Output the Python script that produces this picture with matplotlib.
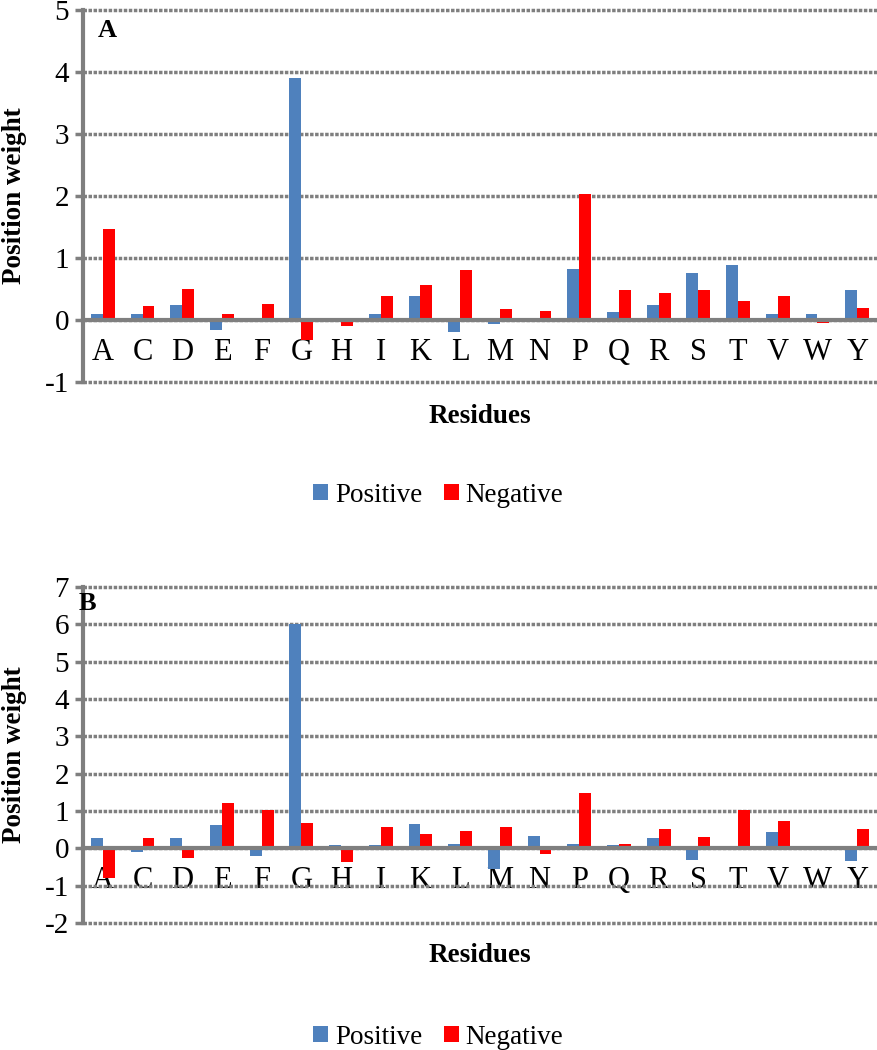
import matplotlib
matplotlib.use("Agg")
import matplotlib.pyplot as plt
import numpy as np

plt.rcParams['font.family'] = ['Liberation Serif', 'DejaVu Serif']
plt.rcParams['axes.unicode_minus'] = False

residues = ['A', 'C', 'D', 'E', 'F', 'G', 'H', 'I', 'K', 'L',
            'M', 'N', 'P', 'Q', 'R', 'S', 'T', 'V', 'W', 'Y']

# panel A
pos_a = [0.10, 0.10, 0.24, -0.16, 0.01, 3.91, 0.0, 0.09, 0.39, -0.19,
         -0.06, 0.0, 0.82, 0.13, 0.25, 0.76, 0.89, 0.10, 0.10, 0.48]
neg_a = [1.47, 0.23, 0.50, 0.10, 0.26, -0.32, -0.10, 0.39, 0.57, 0.80,
         0.17, 0.14, 2.03, 0.48, 0.43, 0.48, 0.30, 0.39, -0.05, 0.20]

# panel B
pos_b = [0.27, -0.10, 0.27, 0.62, -0.20, 6.02, 0.10, 0.10, 0.64, 0.12,
         -0.55, 0.34, 0.12, 0.10, 0.28, -0.32, 0.0, 0.43, 0.0, -0.34]
neg_b = [-0.79, 0.27, -0.27, 1.21, 1.02, 0.68, -0.37, 0.57, 0.39, 0.46,
         0.57, -0.16, 1.48, 0.12, 0.53, 0.30, 1.04, 0.73, 0.0, 0.53]

BLUE = '#4F81BD'
RED = '#FF0000'
GRAY = '#7F7F7F'

fig = plt.figure(figsize=(8.77, 10.5), dpi=100)
W, H = 877, 1050


def panel(rect, pos, neg, ylim, letter, letter_xy):
    ax = fig.add_axes(rect)
    x = np.arange(len(residues))
    w = 0.3
    ax.bar(x - w / 2, pos, w, color=BLUE, label='Positive', zorder=3)
    ax.bar(x + w / 2, neg, w, color=RED, label='Negative', zorder=3)
    ax.set_xlim(-0.5, len(residues) - 0.5)
    ax.set_ylim(*ylim)
    ax.set_yticks(range(ylim[0], ylim[1] + 1))
    ax.yaxis.grid(True, color=GRAY, linestyle=(0, (1.0, 0.45)), linewidth=2.5, zorder=0)
    for gl in ax.get_ygridlines():
        gl.set_clip_on(False)
    for s in ['top', 'right']:
        ax.spines[s].set_visible(False)
    ax.spines['left'].set_color(GRAY)
    ax.spines['left'].set_linewidth(3)
    ax.spines['bottom'].set_position(('data', 0))
    ax.spines['bottom'].set_color(GRAY)
    ax.spines['bottom'].set_linewidth(3)
    ax.spines['bottom'].set_zorder(4)
    ax.set_xticks(x)
    ax.set_xticklabels(residues, fontsize=22)
    ax.tick_params(axis='x', length=0, pad=13)
    ax.tick_params(axis='y', length=6, width=2.5, color=GRAY, labelsize=21, pad=4)
    ax.set_ylabel('Position weight', fontsize=19.5, fontweight='bold')
    ax.yaxis.set_label_coords(-0.071, 0.5)
    ax.set_xlabel('Residues', fontsize=19.5, fontweight='bold')
    ax.xaxis.set_label_coords(0.5, -0.06)
    ax.text(letter_xy[0], letter_xy[1], letter, transform=ax.transAxes,
            fontsize=19, fontweight='bold', ha='center', va='center')
    return ax


def rect_px(left, top, right, bottom):
    return [left / W, 1 - bottom / H, (right - left) / W, (bottom - top) / H]


ax_a = panel(rect_px(83, 10, 877, 382), pos_a, neg_a, (-1, 5), 'A', (0.031, 0.944))
ax_b = panel(rect_px(83, 587, 877, 923), pos_b, neg_b, (-2, 7), 'B', (0.006, 0.952))

for ax, yc in [(ax_a, 495), (ax_b, 1037)]:
    h, l = ax.get_legend_handles_labels()
    fig.legend(h, l, loc='center', bbox_to_anchor=(0.5, 1 - yc / H), ncol=2,
               frameon=False, fontsize=19.5, handlelength=0.55, handleheight=0.55,
               handletextpad=0.25, columnspacing=0.8)

fig.savefig('out.png', dpi=100)
